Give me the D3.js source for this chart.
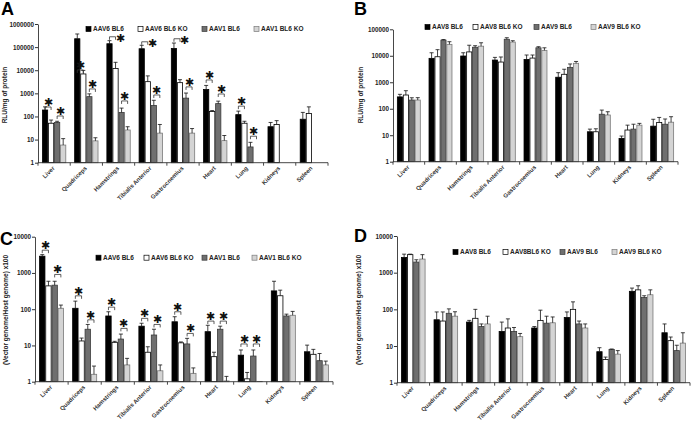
<!DOCTYPE html>
<html><head><meta charset="utf-8">
<script src="https://cdn.jsdelivr.net/npm/d3@7"></script>
<style>
body{margin:0;background:#fff}
text{font-family:"Liberation Sans",Arial,sans-serif}
</style>
</head><body><svg id="c" width="691" height="422"></svg>
<script>
// ---------------- DATA ----------------
const categories = ["Liver","Quadriceps","Hamstrings","Tibialis Anterior","Gastrocnemius","Heart","Lung","Kidneys","Spleen"];
const seriesA = ["AAV6 BL6","AAV6 BL6 KO","AAV1 BL6","AAV1 BL6 KO"];
const seriesB = ["AAV8 BL6","AAV8 BL6 KO","AAV9 BL6","AAV9 BL6 KO"];
const seriesC = ["AAV6 BL6","AAV6 BL6 KO","AAV1 BL6","AAV1 BL6 KO"];
const seriesD = ["AAV8 BL6","AAV8BL6 KO","AAV9 BL6","AAV9 BL6 KO"];
const ticksRLU_A = [1,10,100,1000,10000,100000,1000000];
const ticksRLU_B = [1,10,100,1000,10000,100000];
const ticksVG = [1,10,100,1000,10000];

// Panel A: RLU/mg of protein
const aAAV6 = [190, 230000, 140000, 85000, 88000, 1470, 120, 36, 76];
const aAAV6KO = [51, 6900, 12000, 3200, 2900, 165, 51, 45, 135];
const aAAV1 = [55, 720, 150, 300, 620, 360, 4.8, null, null];
const aAAV1KO = [5.8, 8.8, 26, 19, 19, 9, null, null, null];
const aAAV6Err = [260, 370000, 190000, 120000, 150000, 2200, 170, 55, 150];
const aAAV6KOErr = [70, 9800, 22000, 5700, 3900, 180, 62, 66, 260];
const aAAV1Err = [62, 950, 230, 500, 1030, 460, 7.6, null, null];
const aAAV1KOErr = [11, 12, 36, 45, 30, 15, null, null, null];
// significance brackets A: category, pair (0: AAV6 vs KO, 1: AAV1 vs KO), bracket level, star side
const sigCatA = [0,0,1,1,2,2,3,3,4,4,5,5,6,6];
const sigPairA = [0,1,0,1,0,1,0,1,0,1,0,1,0,1];
const sigLevelA = [257,105,10300,1550,280000,470,170000,850,230000,1900,3800,940,280,14];
const sigSideA = ["top","top","top","top","right","top","right","top","right","top","top","top","top","top"];

// Panel B: RLU/mg of protein
const bAAV8 = [280, 8000, 9800, 6900, 7300, 1550, 13.5, 7.6, 22];
const bAAV8KO = [330, 9200, 14000, 5800, 8200, 2000, 13.5, 15.7, 30];
const bAAV9 = [213, 39000, 21000, 42000, 20000, 3650, 62, 17, 26];
const bAAV9KO = [213, 27000, 23000, 33000, 16000, 5200, 58, 24, 31];
const bAAV8Err = [350, 13000, 13000, 8700, 10700, 2300, 17, 9.3, 40];
const bAAV8KOErr = [480, 17000, 25000, 9000, 10700, 3100, 17.5, 24, 47];
const bAAV9Err = [260, 41000, 24000, 48000, 22000, 4900, 89, 26, 41];
const bAAV9KOErr = [262, 34000, 31000, 37000, 20000, 6100, 77, 28, 50];

// Panel C: (Vector genome/Host genome) x100
const cAAV6 = [2900, 106, 65, 34, 45, 24, 5.4, 320, 6.7];
const cAAV6KO = [440, 13.3, 12.2, 6.5, 11.8, 4.9, 1.2, 235, 5.7];
const cAAV1 = [460, 28, 15, 19.4, 11, 28, 5.1, 65, 3.8];
const cAAV1KO = [106, 1.6, 2.9, 2.0, 1.7, 1.05, 1.02, 68, 2.9];
const cAAV6Err = [3200, 167, 85, 41, 62, 36, 7.5, 590, 10.2];
const cAAV6KOErr = [590, 16, 13, 9.2, 12.5, 6.5, 1.8, 335, 7.8];
const cAAV1Err = [590, 38, 20.6, 28, 15.7, 34, 7.5, 73, 6];
const cAAV1KOErr = [130, 2.7, 4.4, 2.9, 2.4, 1.4, null, 87, 3.7];
const sigCatC = [0,0,1,1,2,2,3,3,4,4,5,5,6,6];
const sigPairC = [0,1,0,1,0,1,0,1,0,1,0,1,0,1];
const sigLevelC = [4250,910,234,51,114,29.6,56,38,85,21.5,47,47,11,11];
const sigSideC = ["top","top","top","top","top","top","top","top","top","top","top","top","top","top"];

// Panel D: (Vector genome/Host genome) x100
const dAAV8 = [2600, 52, 45, 25, 31, 60, 7, 310, 23];
const dAAV8KO = [3100, 48, 57, 31, 50, 100, 4.3, 340, 14];
const dAAV9 = [1950, 78, 34, 25, 42, 40, 8, 210, 7.5];
const dAAV9KO = [2350, 65, 40, 18, 43, 31, 6, 250, 12];
const dAAV8Err = [3200, 85, 50, 45, 34, 85, 9, 380, 40];
const dAAV8KOErr = [3200, 85, 100, 55, 95, 160, 5, 440, 17.6];
const dAAV9Err = [2250, 103, 40, 32, 65, 48, 8.3, 235, 10.5];
const dAAV9KOErr = [3100, 86, 65, 22, 62, 40, 7.5, 340, 23];

// ---------------- DRAW ----------------
const svg = d3.select("#c");
svg.append("rect").attr("width",691).attr("height",422).attr("fill","#fff");
const fills = ["#000000","#ffffff","#6f6f6f","#d4d4d4"];
const strokes = ["#000000","#000000","#3a3a3a","#7a7a7a"];
const ink = "#222";

function drawPanel(p) {
  const g = svg.append("g");
  const x = d3.scaleBand().domain(categories).range([p.x0, p.x1]).paddingInner(0.25).paddingOuter(0.125);
  const xs = d3.scaleBand().domain(d3.range(4)).range([0, x.bandwidth()]);
  const y = d3.scaleLog().domain([1, p.max]).range([p.yb, p.yt]);
  const bw = xs.bandwidth();

  // bars
  p.values.forEach((vals, si) => {
    vals.forEach((v, ci) => {
      if (v == null) return;
      const bx = x(categories[ci]) + xs(si);
      g.append("rect")
        .attr("x", bx + 0.4).attr("y", y(v))
        .attr("width", bw - 0.8).attr("height", Math.max(0, y(1) - y(v)))
        .attr("fill", fills[si]).attr("stroke", strokes[si]).attr("stroke-width", 0.8);
    });
  });
  // error bars
  p.errors.forEach((errs, si) => {
    errs.forEach((e, ci) => {
      const v = p.values[si][ci];
      if (e == null || v == null || e <= v) return;
      const cx = x(categories[ci]) + xs(si) + bw / 2;
      g.append("line").attr("x1", cx).attr("x2", cx).attr("y1", y(v)).attr("y2", y(e))
        .attr("stroke", "#111").attr("stroke-width", 0.8);
      g.append("line").attr("x1", cx - 2).attr("x2", cx + 2).attr("y1", y(e)).attr("y2", y(e))
        .attr("stroke", "#111").attr("stroke-width", 0.8);
    });
  });

  // y axis
  const ya = g.append("g").attr("transform", `translate(${p.x0},0)`)
    .call(d3.axisLeft(y).tickValues(p.ticks).tickFormat(d3.format("d")).tickSize(3).tickSizeOuter(0));
  ya.select(".domain").attr("stroke", "#333").attr("stroke-width", 0.9);
  ya.selectAll(".tick line").attr("stroke", "#333");
  ya.selectAll(".tick text").attr("font-size", 6.3).attr("font-weight", "bold").attr("fill", ink)
    .attr("font-family", "Liberation Sans, Arial, sans-serif").attr("x", -4);

  // x axis
  g.append("line").attr("x1", p.x0).attr("x2", p.x1).attr("y1", p.yb).attr("y2", p.yb)
    .attr("stroke", "#333").attr("stroke-width", 0.9);
  const step = x.step();
  d3.range(categories.length + 1).forEach(i => {
    const tx = p.x0 + i * step;
    g.append("line").attr("x1", tx).attr("x2", tx).attr("y1", p.yb).attr("y2", p.yb + 3)
      .attr("stroke", "#333").attr("stroke-width", 0.9);
  });
  categories.forEach(c => {
    const cx = x(c) + x.bandwidth() / 2;
    g.append("text").attr("transform", `translate(${cx + 1},${p.yb + 6}) rotate(-45)`)
      .attr("text-anchor", "end").attr("font-size", 6).attr("font-weight", "bold").attr("fill", "#333")
      .text(c);
  });

  // y title
  g.append("text").attr("transform", `translate(${p.titleX},${p.titleY}) rotate(-90)`)
    .attr("text-anchor", "middle").attr("font-size", 6.5).attr("font-weight", "bold").attr("fill", ink)
    .text(p.title);

  // panel letter
  g.append("text").attr("x", p.letterX).attr("y", p.letterY).attr("font-size", 18)
    .attr("font-weight", "bold").attr("fill", "#000").text(p.letter);

  // legend
  p.series.forEach((s, i) => {
    const lx = p.legendX[i];
    g.append("rect").attr("x", lx).attr("y", p.legendY - 2.5).attr("width", 5).attr("height", 5)
      .attr("fill", fills[i]).attr("stroke", strokes[i]).attr("stroke-width", 0.7);
    g.append("text").attr("x", lx + 7).attr("y", p.legendY + 2.3).attr("font-size", 6.5)
      .attr("font-weight", "bold").attr("fill", ink).text(s);
  });

  // significance brackets
  if (p.sigCat) {
    p.sigCat.forEach((ci, k) => {
      const pair = p.sigPair[k];
      const c = categories[ci];
      const c1 = x(c) + xs(pair * 2) + bw / 2;
      const c2 = x(c) + xs(pair * 2 + 1) + bw / 2;
      const ly = y(p.sigLevel[k]);
      g.append("path").attr("d", `M${c1},${ly + 3}V${ly}H${c2}V${ly + 3}`)
        .attr("fill", "none").attr("stroke", "#333").attr("stroke-width", 0.8);
      const side = p.sigSide[k];
      const sx = side === "right" ? c2 + 5 : (c1 + c2) / 2;
      const sy = side === "right" ? ly + 1 : ly - 5;
      g.append("text").attr("x", sx).attr("y", sy).attr("text-anchor", "middle")
        .attr("dominant-baseline", "central").attr("font-size", 11)
        .attr("font-family", "DejaVu Sans, sans-serif").attr("fill", "#111").text("\u2731");
    });
  }
}

drawPanel({
  x0: 38, x1: 328, yt: 24, yb: 162.7, max: 1000000, ticks: ticksRLU_A,
  values: [aAAV6, aAAV6KO, aAAV1, aAAV1KO], errors: [aAAV6Err, aAAV6KOErr, aAAV1Err, aAAV1KOErr],
  series: seriesA, legendX: [86, 138, 202, 254], legendY: 29,
  title: "RLU/mg of protein", titleX: 7, titleY: 95,
  letter: "A", letterX: 1, letterY: 15,
  sigCat: sigCatA, sigPair: sigPairA, sigLevel: sigLevelA, sigSide: sigSideA
});
drawPanel({
  x0: 393, x1: 678, yt: 29.3, yb: 161.7, max: 100000, ticks: ticksRLU_B,
  values: [bAAV8, bAAV8KO, bAAV9, bAAV9KO], errors: [bAAV8Err, bAAV8KOErr, bAAV9Err, bAAV9KOErr],
  series: seriesB, legendX: [425, 473, 534, 591], legendY: 27,
  title: "RLU/mg of protein", titleX: 363, titleY: 95,
  letter: "B", letterX: 354, letterY: 15
});
drawPanel({
  x0: 35, x1: 333, yt: 236.7, yb: 381.7, max: 10000, ticks: ticksVG,
  values: [cAAV6, cAAV6KO, cAAV1, cAAV1KO], errors: [cAAV6Err, cAAV6KOErr, cAAV1Err, cAAV1KOErr],
  series: seriesC, legendX: [96, 144, 202, 252], legendY: 257.7,
  title: "(Vector genome/Host genome) x100", titleX: 8, titleY: 310,
  letter: "C", letterX: 0, letterY: 245,
  sigCat: sigCatC, sigPair: sigPairC, sigLevel: sigLevelC, sigSide: sigSideC
});
drawPanel({
  x0: 397, x1: 690, yt: 236, yb: 382.7, max: 10000, ticks: ticksVG,
  values: [dAAV8, dAAV8KO, dAAV9, dAAV9KO], errors: [dAAV8Err, dAAV8KOErr, dAAV9Err, dAAV9KOErr],
  series: seriesD, legendX: [453, 503, 560, 612], legendY: 252,
  title: "(Vector genome/Host genome) x100", titleX: 361, titleY: 310,
  letter: "D", letterX: 354, letterY: 242
});
</script></body></html>
